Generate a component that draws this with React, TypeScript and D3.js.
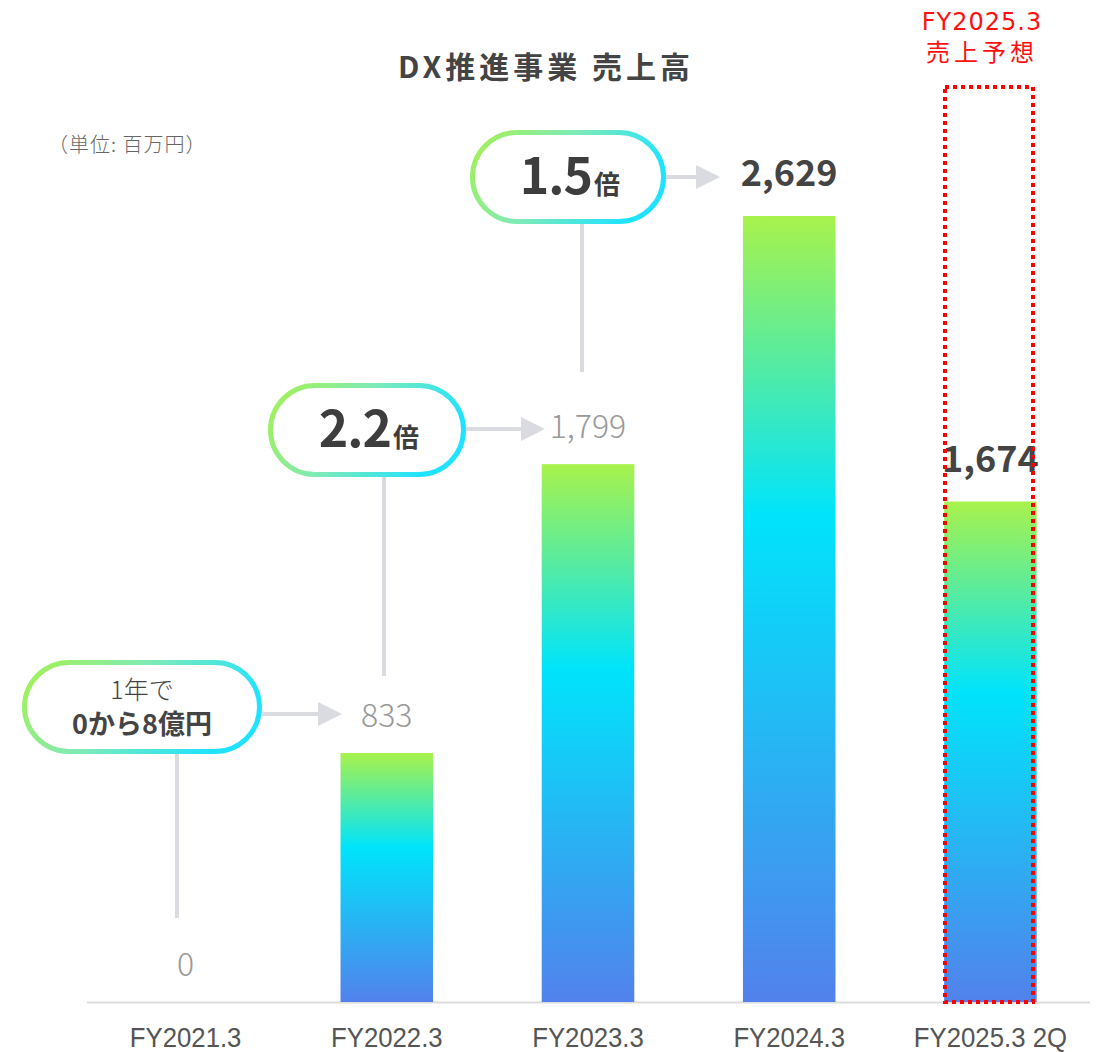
import React from "react";
import * as d3 from "d3";

const categories = ["FY2021.3", "FY2022.3", "FY2023.3", "FY2024.3", "FY2025.3 2Q"];
const values = [0, 833, 1799, 2629, 1674];
const labelBold = [false, false, false, true, true];
const multipliers = [
  { main: "", unit: "", line1: "1年で", line2: "0から8億円" },
  { main: "2.2", unit: "倍" },
  { main: "1.5", unit: "倍" },
];

const W = 1102;
const H = 1052;
const FONT = "'Noto Sans CJK JP', 'Noto Sans', sans-serif";

export default function App() {
  const x = d3.scaleBand<string>().domain(categories).range([85, 1091]).paddingInner(0.54).paddingOuter(0.27);
  const y = d3.scaleLinear().domain([0, 2629]).range([1002, 216]);
  const bw = x.bandwidth();
  const cx = (i: number) => (x(categories[i]) as number) + bw / 2;

  const bubbles = [
    { x0: 22, x1: 262, y0: 660, y1: 754, lineX: 177, lineY2: 918, arrowY: 714 },
    { x0: 268, x1: 466, y0: 383, y1: 477, lineX: 384, lineY2: 676, arrowY: 429 },
    { x0: 470, x1: 666, y0: 130, y1: 224, lineX: 582, lineY2: 372, arrowY: 177 },
  ];
  const arrowEnd = [342, 545, 720];

  const labelY = (i: number) => {
    if (i === 0) return 976;
    if (labelBold[i]) return y(values[i]) - 30;
    return y(values[i]) - 26;
  };

  return (
    <svg width={W} height={H} style={{ position: "absolute", left: 0, top: 0, background: "#fff" }} fontFamily={FONT}>
      <defs>
        <linearGradient id="barGrad" x1="0" y1="0" x2="0" y2="1">
          <stop offset="0" stopColor="#a8f24c" />
          <stop offset="0.38" stopColor="#00e4fb" />
          <stop offset="1" stopColor="#5281ec" />
        </linearGradient>
        <linearGradient id="bubGrad" x1="0" y1="0" x2="1" y2="0.3">
          <stop offset="0" stopColor="#a6f150" />
          <stop offset="0.5" stopColor="#7eeab8" />
          <stop offset="1" stopColor="#1fe3ff" />
        </linearGradient>
      </defs>

      {/* title */}
      <text x={546} y={78} textAnchor="middle" fontSize={30} fontWeight={700} fill="#444" letterSpacing={4}>
        DX推進事業 売上高
      </text>
      <text x={48} y={152} fontSize={20} fill="#666" fontWeight={300} letterSpacing={1}>
        （単位: 百万円）
      </text>

      {/* forecast annotation */}
      <text x={982} y={30} textAnchor="middle" fontSize={24} fill="#ff1010" fontFamily="'DejaVu Sans', sans-serif" letterSpacing={1}>
        FY2025.3
      </text>
      <text x={982} y={61} textAnchor="middle" fontSize={24} fill="#ff1010" letterSpacing={4}>
        売上予想
      </text>

      {/* axis line */}
      <line x1={87} x2={1090} y1={1002.5} y2={1002.5} stroke="#dcdcdc" strokeWidth={2} />

      {/* bars */}
      {values.map((v, i) => (
        <rect key={i} x={x(categories[i])} y={y(v)} width={bw} height={y(0) - y(v)} fill="url(#barGrad)" />
      ))}

      {/* connectors */}
      {bubbles.map((b, k) => (
        <g key={k}>
          <line x1={b.lineX} x2={b.lineX} y1={b.y1} y2={b.lineY2} stroke="#d9dbe0" strokeWidth={4} />
          <line x1={b.x1} x2={arrowEnd[k] - 22} y1={b.arrowY} y2={b.arrowY} stroke="#d9dbe0" strokeWidth={4} />
          <path
            d={`M${arrowEnd[k] - 24},${b.arrowY - 12} L${arrowEnd[k]},${b.arrowY} L${arrowEnd[k] - 24},${b.arrowY + 12} Z`}
            fill="#d9dbe0"
          />
        </g>
      ))}

      {/* bubbles */}
      {bubbles.map((b, k) => {
        const h = b.y1 - b.y0;
        const mid = (b.x0 + b.x1) / 2;
        const m = multipliers[k];
        return (
          <g key={k}>
            <rect
              x={b.x0 + 2.5}
              y={b.y0 + 2.5}
              width={b.x1 - b.x0 - 5}
              height={h - 5}
              rx={(h - 5) / 2}
              fill="#fff"
              stroke="url(#bubGrad)"
              strokeWidth={5}
            />
            {k === 0 ? (
              <>
                <text x={mid} y={b.y0 + 39} textAnchor="middle" fontSize={25} fontWeight={300} fill="#444">
                  {m.line1}
                </text>
                <text x={mid} y={b.y0 + 74} textAnchor="middle" fontSize={27} fontWeight={700} fill="#444">
                  {m.line2}
                </text>
              </>
            ) : (
              <text x={mid + 2} y={b.y0 + 64} textAnchor="middle" fill="#3d3d3d" fontWeight={700}>
                <tspan fontSize={50} letterSpacing={-1}>{m.main}</tspan>
                <tspan fontSize={26} dx={2}>{m.unit}</tspan>
              </text>
            )}
          </g>
        );
      })}

      {/* value labels */}
      {values.map((v, i) => (
        <text
          key={i}
          x={cx(i)}
          y={labelY(i)}
          textAnchor="middle"
          fontSize={labelBold[i] ? 36 : 32}
          fontWeight={labelBold[i] ? 700 : 300}
          fill={labelBold[i] ? "#444" : "#999"}
        >
          {d3.format(",")(v)}
        </text>
      ))}

      {/* forecast dotted box */}
      <rect
        x={945}
        y={87}
        width={88}
        height={915}
        fill="none"
        stroke="#ff0000"
        strokeWidth={4}
        strokeDasharray="4 4"
      />

      {/* x labels */}
      {categories.map((c, i) => (
        <text
          key={c}
          transform={`translate(${cx(i)},1047) scale(0.92,1)`}
          textAnchor="middle"
          fontSize={28}
          fill="#555"
          fontFamily="'Liberation Sans', sans-serif"
        >
          {c}
        </text>
      ))}
    </svg>
  );
}
